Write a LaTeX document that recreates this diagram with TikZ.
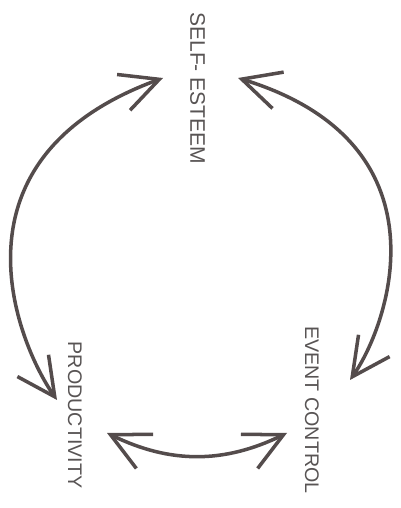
\documentclass[tikz,border=0pt]{standalone}
\usepackage{fontspec}
\setmainfont{Liberation Sans}
\usetikzlibrary{arrows.meta}

\definecolor{arrowgray}{RGB}{84,76,76}
\definecolor{labelgray}{RGB}{88,84,84}

\begin{document}
\begin{tikzpicture}[
    factor/.style={rotate=-90, inner sep=0pt, text=labelgray,
      font=\fontsize{14}{16}\selectfont},
    link/.style={<->, line width=2.5pt, draw=arrowgray},
    >={Straight Barb[length=9.5mm, width=9.5mm]}
  ]
    \useasboundingbox (0,0) rectangle (10.025,12.7);

    % Labels
    \node[factor] (selfesteem)   at (4.94, 10.49) {\fontsize{15}{17}\selectfont SELF- ESTEEM};
    \node[factor] (productivity) at (1.875, 2.325) {PRODUCTIVITY};
    \node[factor] (eventcontrol) at (7.8, 2.45)   {EVENT CONTROL};

    % Arrow ends
    \coordinate (se-l) at (4.075, 10.75);
    \coordinate (se-r) at (5.95, 10.75);
    \coordinate (pr-t) at (1.425, 2.7);
    \coordinate (pr-r) at (2.675, 1.875);
    \coordinate (ec-t) at (8.75, 3.2);
    \coordinate (ec-l) at (7.175, 1.875);

    % Arrows
    \draw[link] (se-l) .. controls (-1.47, 8.73) and (0.43, 4.12) .. (pr-t);
    \draw[link] (se-r) .. controls (11.27, 9.12) and (9.75, 4.625) .. (ec-t);
    \draw[link] (pr-r) to[out=-26, in=206] (ec-l);
  \end{tikzpicture}
\end{document}
